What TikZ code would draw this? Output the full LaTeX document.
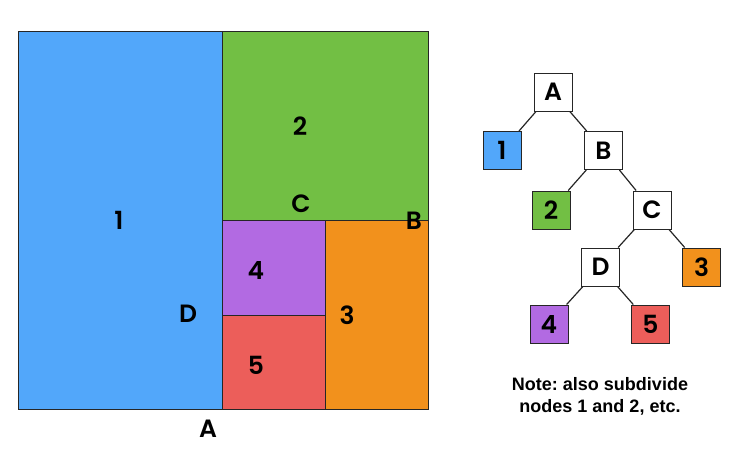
\documentclass[tikz,border=0pt]{standalone}
\usepackage{fontspec}
\setmainfont{Liberation Sans}
\newfontfamily\labfont{Poppins}[UprightFont={* SemiBold}]
\frenchspacing
\definecolor{cblue}{RGB}{82,167,250}
\definecolor{cgreen}{RGB}{114,191,68}
\definecolor{cpurple}{RGB}{178,106,226}
\definecolor{cred}{RGB}{236,94,90}
\definecolor{corange}{RGB}{242,145,28}
\tikzset{
  region/.style={draw=black!85, line width=1pt},
  lbl/.style={font=\labfont\fontsize{25}{28}\selectfont, inner sep=0pt},
  tbox/.style={draw=black!85, line width=1pt, minimum width=38pt, minimum height=38pt, inner sep=0pt, font=\labfont\fontsize{25}{28}\selectfont},
  edge/.style={draw=black!85, line width=1.2pt}
}
\begin{document}
\begin{tikzpicture}[x=1pt,y=-1pt]
\useasboundingbox (0,0) rectangle (734,453);
% regions
\fill[cblue] (18,31) rectangle (222.7,409.3);
\fill[cgreen] (222.7,31) rectangle (428,220.3);
\fill[cpurple] (222.7,220.3) rectangle (325.3,315);
\fill[cred] (222.7,315) rectangle (325.3,409.3);
\fill[corange] (325.3,220.3) rectangle (428,409.3);
\draw[region] (18,31) rectangle (428,409.3);
\draw[region] (222.7,31) -- (222.7,409.3);
\draw[region] (222.7,220.3) -- (428,220.3);
\draw[region] (325.3,220.3) -- (325.3,409.3);
\draw[region] (222.7,315) -- (325.3,315);
% labels
\node[lbl] (l1) at (119,220) {1};
\node[lbl] (l2) at (300,126) {2};
\node[lbl] (lC) at (301,204) {C};
\node[lbl] (lB) at (414,221) {B};
\node[lbl] (l4) at (256,270) {4};
\node[lbl] (lD) at (188,314) {D};
\node[lbl] (l3) at (347,315) {3};
\node[lbl] (l5) at (256,365) {5};
\node[lbl] (lA) at (208,429) {A};
% tree
\node[tbox, fill=white] (A) at (553,92) {A};
\node[tbox, fill=cblue] (n1) at (502,150.5) {1};
\node[tbox, fill=white] (B) at (603.5,150.5) {B};
\node[tbox, fill=cgreen] (n2) at (551,210) {2};
\node[tbox, fill=white] (C) at (652,210) {C};
\node[tbox, fill=white] (D) at (600.5,267) {D};
\node[tbox, fill=corange] (n3) at (701.7,267) {3};
\node[tbox, fill=cpurple] (n4) at (549,324) {4};
\node[tbox, fill=cred] (n5) at (650.3,324) {5};
\draw[edge] (A) -- (n1);
\draw[edge] (A) -- (B);
\draw[edge] (B) -- (n2);
\draw[edge] (B) -- (C);
\draw[edge] (C) -- (D);
\draw[edge] (C) -- (n3);
\draw[edge] (D) -- (n4);
\draw[edge] (D) -- (n5);
\node[font=\bfseries\fontsize{18}{22}\selectfont, align=center, inner sep=0pt] (note) at (600,396) {Note: also subdivide\\nodes 1 and 2, etc.};
\end{tikzpicture}
\end{document}
